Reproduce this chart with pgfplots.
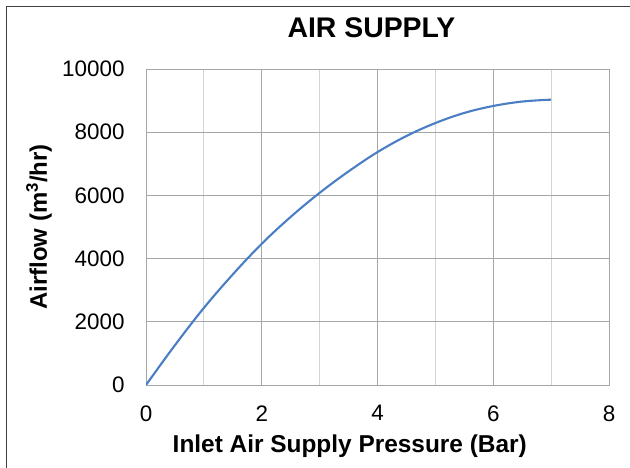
\documentclass[border=0pt]{standalone}
\usepackage{pgfplots}
\pgfplotsset{compat=1.18}
\usepackage{fontspec}
\setmainfont{Liberation Sans}
\definecolor{curve}{HTML}{4A7EC4}
\definecolor{gmaj}{HTML}{A6A6A6}
\definecolor{gmin}{HTML}{D4D4D4}
\definecolor{frame}{HTML}{404040}
\begin{document}
\begin{tikzpicture}[x=1bp,y=1bp]
\useasboundingbox (0,0) rectangle (630,-468);
\draw[frame, line width=1.5bp] (6.5,-468) -- (6.5,-6.5) -- (630,-6.5);
\begin{axis}[
  at={(146bp,-385bp)}, anchor=south west,
  scale only axis, width=463bp, height=316bp,
  xmin=0, xmax=8, ymin=0, ymax=10000,
  xtick={0,2,4,6,8}, minor xtick={1,3,5,7},
  ytick={0,2000,4000,6000,8000,10000},
  grid=both,
  major grid style={gmaj, line width=0.9bp},
  minor grid style={gmin, line width=0.9bp},
  axis line style={gmaj, line width=0.9bp},
  major tick length=0pt, minor tick length=0pt,
  scaled y ticks=false,
  /pgf/number format/assume math mode=true,
  /pgf/number format/1000 sep={},
  tick label style={font=\fontsize{22.5}{26}\selectfont, text=black},
  xticklabel style={yshift=-17bp},
  yticklabel style={xshift=-18bp},
  title={AIR SUPPLY},
  title style={font=\fontsize{28.5}{32}\selectfont\bfseries, at={(axis description cs:0.487,1.082)}, anchor=base},
  xlabel={Inlet Air Supply Pressure (Bar)},
  xlabel style={font=\fontsize{24.5}{28}\selectfont\bfseries, at={(axis description cs:0.44,-0.212)}, anchor=base},
  ylabel={Airflow (m\textsuperscript{3}/hr)},
  ylabel style={font=\fontsize{24}{28}\selectfont\bfseries, at={(axis description cs:-0.214,0.5)}, anchor=base, rotate=0},
]
\addplot[curve, line width=2.1bp, smooth, tension=0.6] coordinates {
(0,0) (0.5,1260) (1,2440) (1.5,3500) (2,4470) (2.5,5320) (3,6080) (3.5,6760)
(4,7370) (4.5,7880) (5,8290) (5.5,8610) (6,8830) (6.5,8970) (7,9030)
};
\end{axis}
\end{tikzpicture}
\end{document}
